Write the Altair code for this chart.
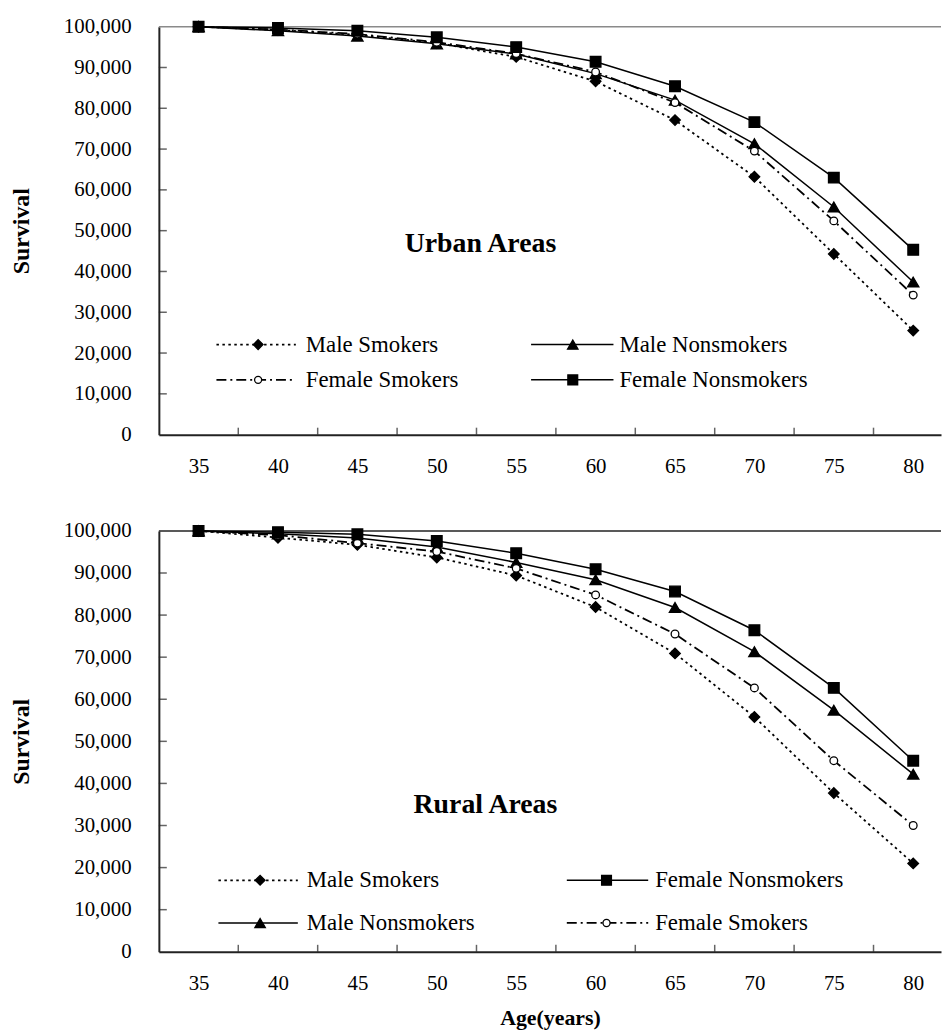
import altair as alt
import pandas as pd

# ---------------- data ----------------
ages = [35, 40, 45, 50, 55, 60, 65, 70, 75, 80]
series_names = ["Male Smokers", "Male Nonsmokers", "Female Smokers", "Female Nonsmokers"]

# Urban areas
urban_male_smokers = [100000, 99200, 98000, 96000, 92600, 86600, 77100, 63200, 44300, 25500]
urban_male_nonsmokers = [100000, 99000, 97700, 95800, 93300, 88500, 82000, 71300, 55800, 37400]
urban_female_smokers = [100000, 99300, 98200, 96200, 93400, 88900, 81400, 69500, 52400, 34200]
urban_female_nonsmokers = [100000, 99700, 99000, 97400, 95000, 91400, 85400, 76600, 63000, 45300]

# Rural areas
rural_male_smokers = [100000, 98400, 96700, 93700, 89400, 81900, 70900, 55800, 37700, 21000]
rural_male_nonsmokers = [100000, 99300, 98300, 96200, 92500, 88400, 81800, 71300, 57400, 42200]
rural_female_smokers = [100000, 99000, 97100, 95100, 91100, 84800, 75500, 62700, 45400, 30000]
rural_female_nonsmokers = [100000, 99700, 99200, 97600, 94700, 90900, 85600, 76400, 62700, 45400]

y_tick_values = [0, 10000, 20000, 30000, 40000, 50000, 60000, 70000, 80000, 90000, 100000]
y_inner_ticks = [10000, 20000, 30000, 40000, 50000, 60000, 70000, 80000, 90000]
x_boundary_ticks = [37.5, 42.5, 47.5, 52.5, 57.5, 62.5, 67.5, 72.5, 77.5]
top_border_value = [100000]

# ---------------- styles ----------------
FONT = "Liberation Serif"
dash_list = [[2.5, 3.5], None, [10, 4, 2, 4], None]
shape_list = ["diamond", "triangle-up", "circle", "square"]
fill_list = ["black", "black", "white", "black"]
size_list = [115, 130, 60, 115]
width_list = [1.8, 1.5, 1.8, 1.5]

PW = 788
X_DOMAIN = [32.5, 81.75]


def line_kw(i):
    kw = {"color": "black", "strokeWidth": width_list[i]}
    if dash_list[i] is not None:
        kw["strokeDash"] = dash_list[i]
    return kw


def panel(vals, title, legend_items, title_pos, height, top_color, show_x_title):
    xs = alt.Scale(domain=X_DOMAIN, nice=False, zero=False)
    ys = alt.Scale(domain=[0, 100000], nice=False)
    x_axis = alt.Axis(values=ages, ticks=False, grid=False, labelPadding=21,
                      title="Age(years)" if show_x_title else None, titlePadding=14,
                      titleFontSize=22)
    y_axis = alt.Axis(values=y_tick_values, format=",d", ticks=False, grid=False,
                      labelPadding=28, title="Survival", titlePadding=30)

    def X(field):
        return alt.X(field, scale=xs, axis=x_axis)

    def Y(field):
        return alt.Y(field, scale=ys, axis=y_axis)

    top_rule = alt.Chart(pd.DataFrame({"v": top_border_value})).mark_rule(
        color=top_color, strokeWidth=1.5
    ).encode(y=Y("v:Q"))
    yticks = alt.Chart(pd.DataFrame({"v": y_inner_ticks})).mark_tick(
        color="#222", thickness=1.5, size=8, orient="horizontal"
    ).encode(y=Y("v:Q"), x=alt.value(4))
    xticks = alt.Chart(pd.DataFrame({"v": x_boundary_ticks})).mark_tick(
        color="#222", thickness=1.5, size=7, orient="vertical"
    ).encode(x=X("v:Q"), y=alt.value(height - 3.5))

    layers = [top_rule, yticks, xticks]
    line_layers = []
    point_layers = []
    for i, name in enumerate(series_names):
        df = pd.DataFrame({"age": ages, "value": vals[i]})
        line_layers.append(alt.Chart(df).mark_line(**line_kw(i)).encode(x=X("age:Q"), y=Y("value:Q")))
        point_layers.append(
            alt.Chart(df).mark_point(
                filled=True, stroke="black", strokeWidth=1.3, opacity=1,
                shape=shape_list[i], fill=fill_list[i], size=size_list[i]
            ).encode(x=X("age:Q"), y=Y("value:Q"))
        )
    layers += line_layers + point_layers

    ttl = alt.Chart(pd.DataFrame({"t": [title]})).mark_text(
        font=FONT, fontSize=28, fontWeight="bold", color="black", align="center", baseline="middle"
    ).encode(text="t:N", x=alt.value(title_pos[0]), y=alt.value(title_pos[1]))
    layers.append(ttl)

    for name, (x1, x2, xm, xt, yr) in legend_items.items():
        i = series_names.index(name)
        one = pd.DataFrame({"series": [name]})
        lr = alt.Chart(one).mark_rule(**line_kw(i)).encode(
            x=alt.value(x1), x2=alt.value(x2), y=alt.value(yr)
        )
        lp = alt.Chart(one).mark_point(
            filled=True, stroke="black", strokeWidth=1.3, opacity=1,
            shape=shape_list[i], fill=fill_list[i], size=size_list[i] * 0.85
        ).encode(x=alt.value(xm), y=alt.value(yr))
        lt = alt.Chart(one).mark_text(
            font=FONT, fontSize=23, color="black", align="left", baseline="middle"
        ).encode(text="series:N", x=alt.value(xt), y=alt.value(yr))
        layers += [lr, lp, lt]
    return alt.layer(*layers).properties(width=PW, height=height)


urban_legend = {
    "Male Smokers": (58, 138, 100, 148, 320.3),
    "Female Smokers": (58, 138, 100, 148, 355.8),
    "Male Nonsmokers": (375, 458, 417, 464, 320.3),
    "Female Nonsmokers": (375, 458, 417, 464, 355.8),
}
rural_legend = {
    "Male Smokers": (60, 140, 102, 149, 352),
    "Male Nonsmokers": (60, 140, 102, 149, 395),
    "Female Nonsmokers": (411, 493, 451, 500, 352),
    "Female Smokers": (411, 493, 451, 500, 395),
}

top = panel(
    [urban_male_smokers, urban_male_nonsmokers, urban_female_smokers, urban_female_nonsmokers],
    "Urban Areas", urban_legend, (324, 219.3), 411, "#8a8a8a", False,
)
bottom = panel(
    [rural_male_smokers, rural_male_nonsmokers, rural_female_smokers, rural_female_nonsmokers],
    "Rural Areas", rural_legend, (329, 275.7), 424, "#222", True,
)

chart = alt.vconcat(top, bottom, spacing=44).properties(
    padding={"left": 1, "top": 4, "right": 0, "bottom": 0}
).configure_view(stroke=None).configure_axis(
    domainColor="#222", domainWidth=2,
    labelFont=FONT, labelFontSize=21, labelColor="black",
    titleFont=FONT, titleFontSize=24, titleFontWeight="bold", titleColor="black",
)

chart.save("out.html", embed_options={"renderer": "svg", "actions": False})
